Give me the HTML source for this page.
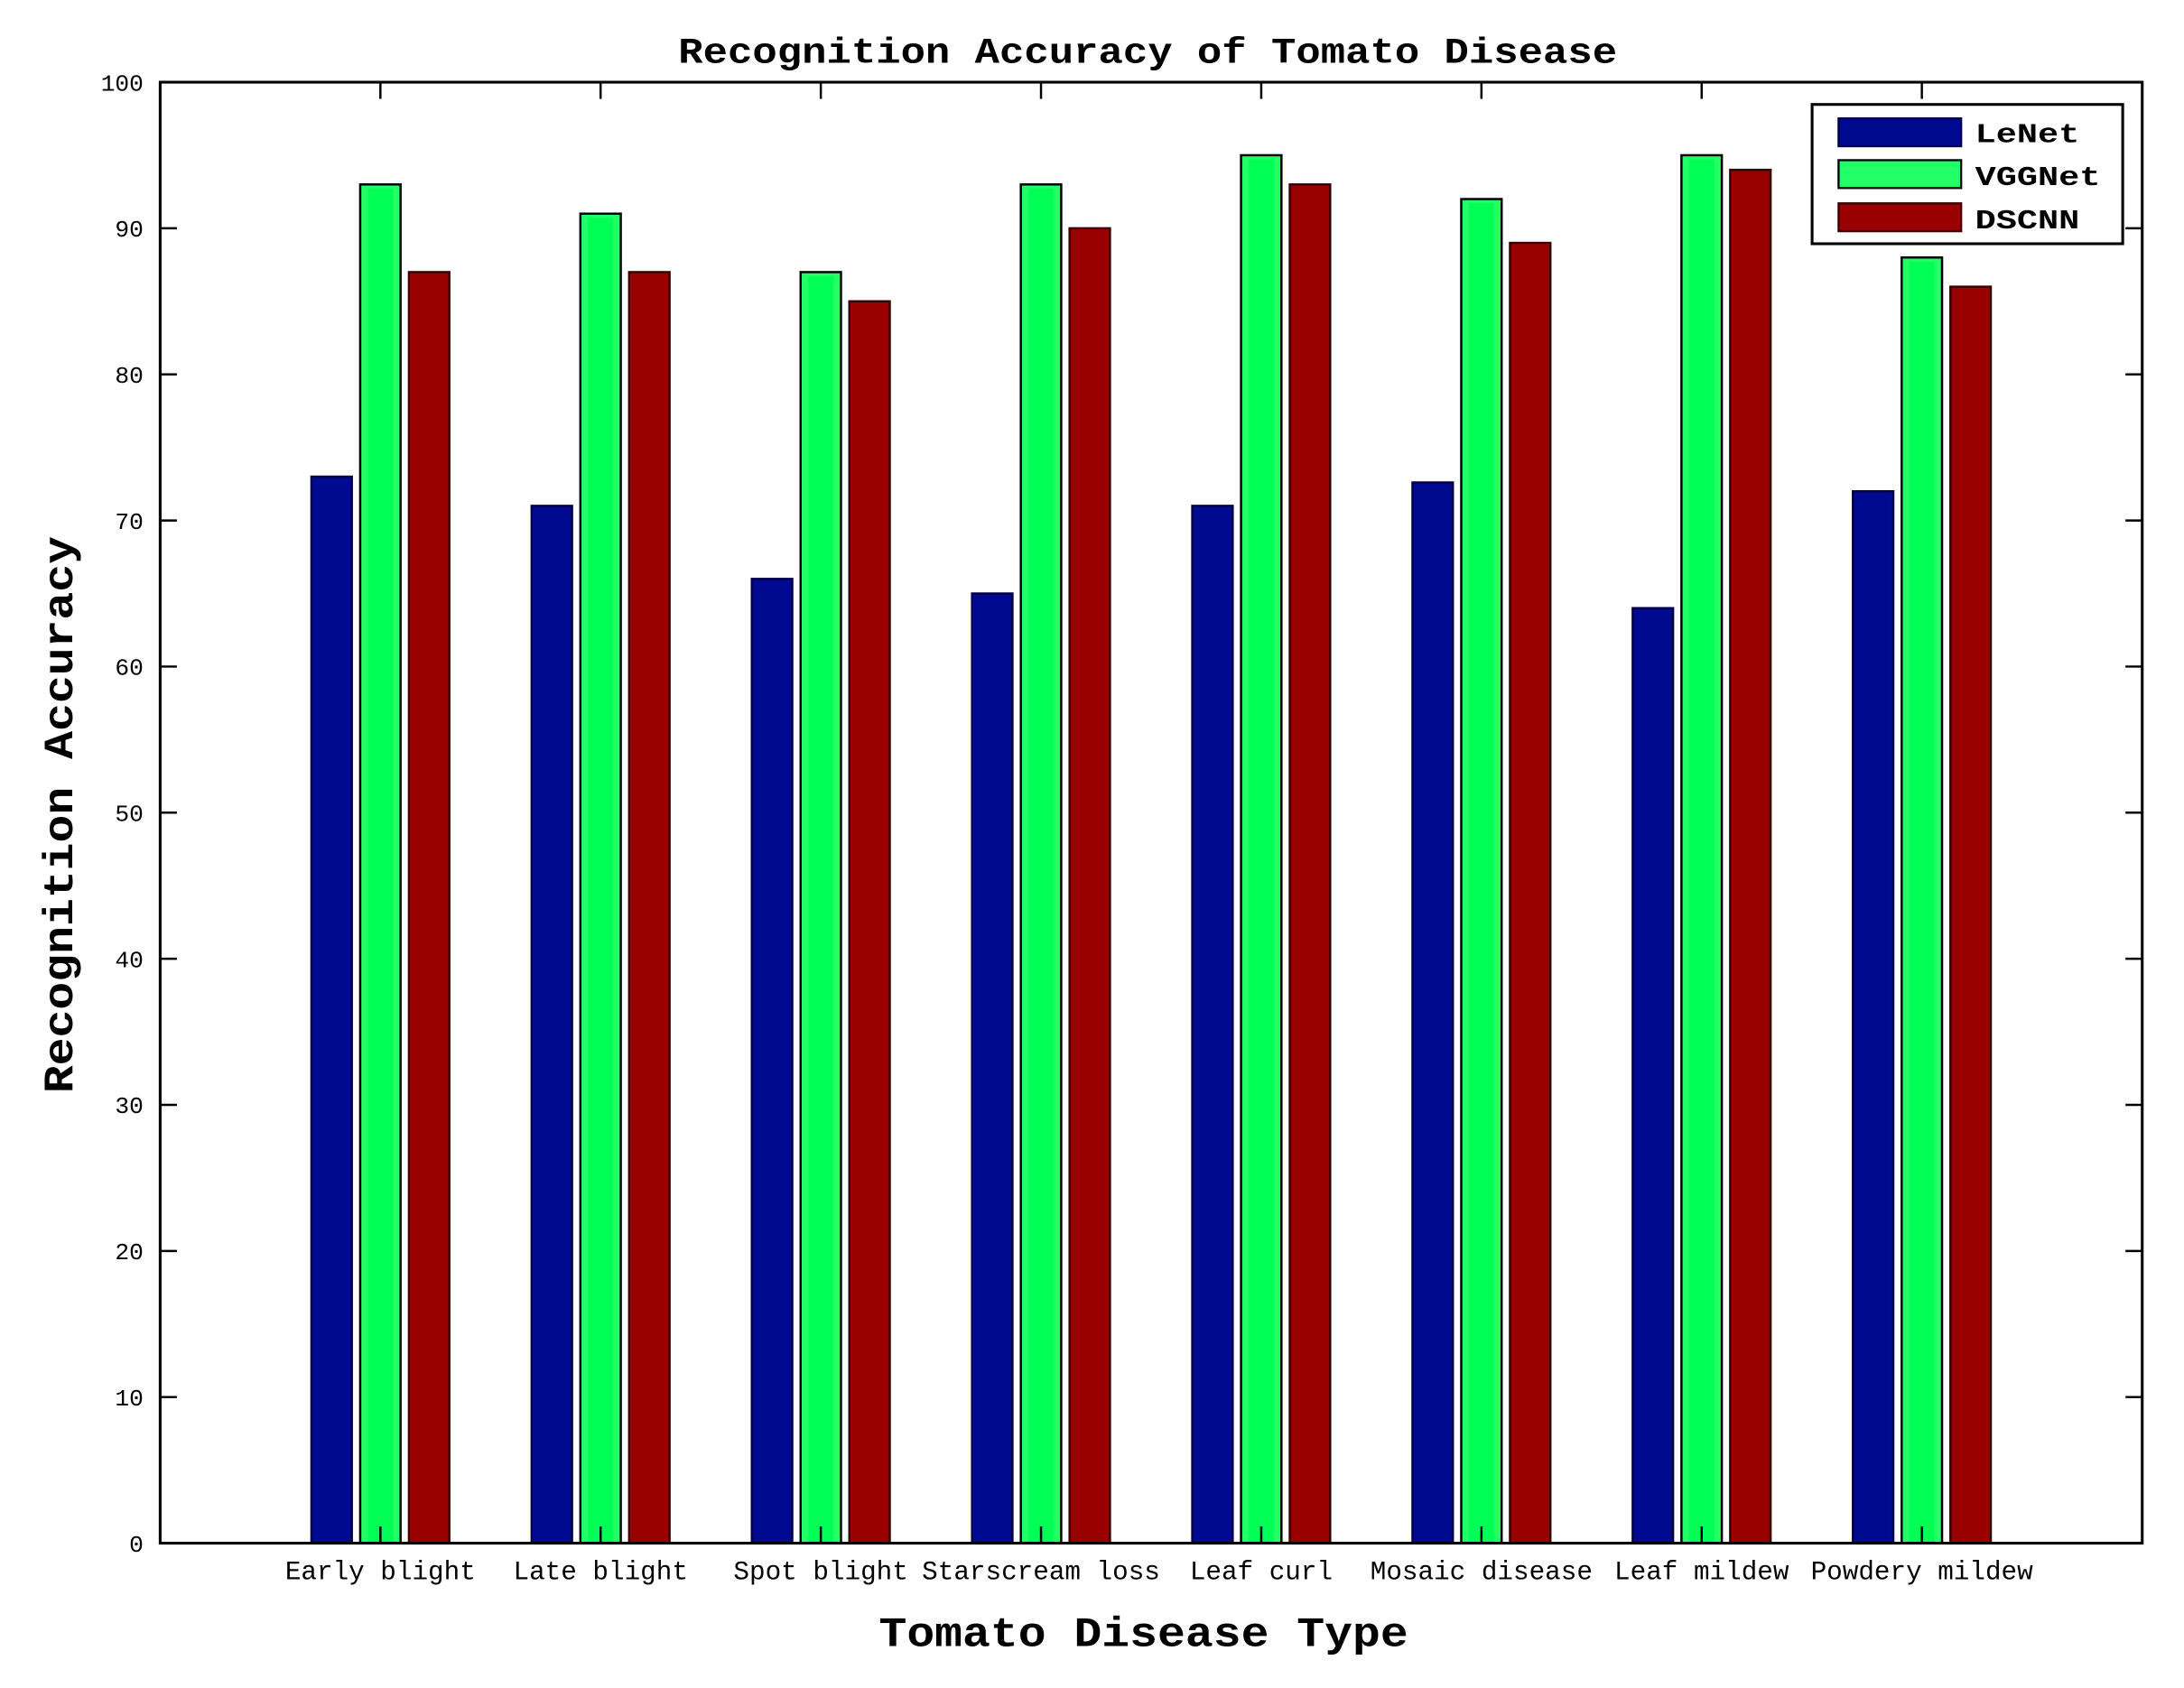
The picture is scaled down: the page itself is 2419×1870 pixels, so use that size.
<!DOCTYPE html>
<html><head><meta charset="utf-8"><style>html,body{margin:0;padding:0;background:#fff}svg{display:block}</style></head>
<body>
<svg width="2419" height="1870" viewBox="0 0 1568 1212" preserveAspectRatio="none" xmlns="http://www.w3.org/2000/svg" font-family="Liberation Mono, monospace">
<rect width="1568" height="1212" fill="#fff"/>
<text x="824" y="45" text-anchor="middle" font-size="26" font-weight="bold" textLength="674" lengthAdjust="spacingAndGlyphs">Recognition Accuracy of Tomato Disease</text>
<g id="bars"></g>
<rect x="115" y="59" width="1423" height="1049" fill="none" stroke="#000" stroke-width="2"/>
<g id="ticks" stroke="#000" stroke-width="1.6"></g>
<g id="ylabels" font-size="17" text-anchor="end"></g>
<g id="xlabels" font-size="19" text-anchor="middle"></g>
<text x="821" y="1182" text-anchor="middle" font-size="30" font-weight="bold" textLength="380" lengthAdjust="spacingAndGlyphs">Tomato Disease Type</text>
<text transform="translate(52,585) rotate(-90)" text-anchor="middle" font-size="30" font-weight="bold" textLength="400" lengthAdjust="spacingAndGlyphs">Recognition Accuracy</text>
<rect x="1301" y="75" width="223" height="100" fill="#fff" stroke="#000" stroke-width="2"/>
<rect x="1320" y="85" width="88" height="20" fill="#000a90" stroke="#00004a" stroke-width="1.5"/>
<rect x="1320" y="115" width="88" height="20" fill="#22ff66" stroke="#000" stroke-width="1.5"/>
<rect x="1320" y="146" width="88" height="20" fill="#990000" stroke="#3a0000" stroke-width="1.5"/>
<g font-size="20" font-weight="bold">
<text x="1418" y="102" textLength="75" lengthAdjust="spacingAndGlyphs">LeNet</text>
<text x="1418" y="133" textLength="90" lengthAdjust="spacingAndGlyphs">VGGNet</text>
<text x="1418" y="164" textLength="75" lengthAdjust="spacingAndGlyphs">DSCNN</text>
</g>
</svg>
<script>
(function(){
var NS="http://www.w3.org/2000/svg";
function el(p,t,a,txt){var e=document.createElementNS(NS,t);for(var k in a)e.setAttribute(k,a[k]);if(txt)e.textContent=txt;p.appendChild(e);return e;}
var y0=1108,u=10.49;
var L=[73,71,66,65,71,72.6,64,72],V=[93,91,87,93,95,92,95,88],D=[87,87,85,90,93,89,94,86];
var names=["Early blight","Late blight","Spot blight","Starscream loss","Leaf curl","Mosaic disease","Leaf mildew","Powdery mildew"];
var b=document.getElementById("bars"),t=document.getElementById("ticks"),yl=document.getElementById("ylabels"),xl=document.getElementById("xlabels");
for(var i=0;i<8;i++){
 var c=115+158.1*(i+1);
 function bar(x0,v,f,s){var h=v*u;el(b,"rect",{x:x0,y:y0-h,width:29,height:h,fill:f,stroke:s,"stroke-width":1.6});}
 bar(c-49.5,L[i],"#000a90","#00004a");
 bar(c-14.5,V[i],"#22ff66","#000");
 el(b,"rect",{x:c-9,y:y0-V[i]*u+3,width:18,height:V[i]*u-4,fill:"#00ff55"});
 bar(c+20.5,D[i],"#990000","#3a0000");
 el(t,"line",{x1:c,y1:59,x2:c,y2:71});
 el(t,"line",{x1:c,y1:1108,x2:c,y2:1096});
 el(xl,"text",{x:c,y:1134},names[i]);
}
for(var k=0;k<=10;k++){
 var y=y0-k*10*u;
 el(t,"line",{x1:115,y1:y,x2:127,y2:y});
 el(t,"line",{x1:1526,y1:y,x2:1538,y2:y});
 el(yl,"text",{x:103,y:y+6},String(k*10));
}
})();
</script>
</body></html>
